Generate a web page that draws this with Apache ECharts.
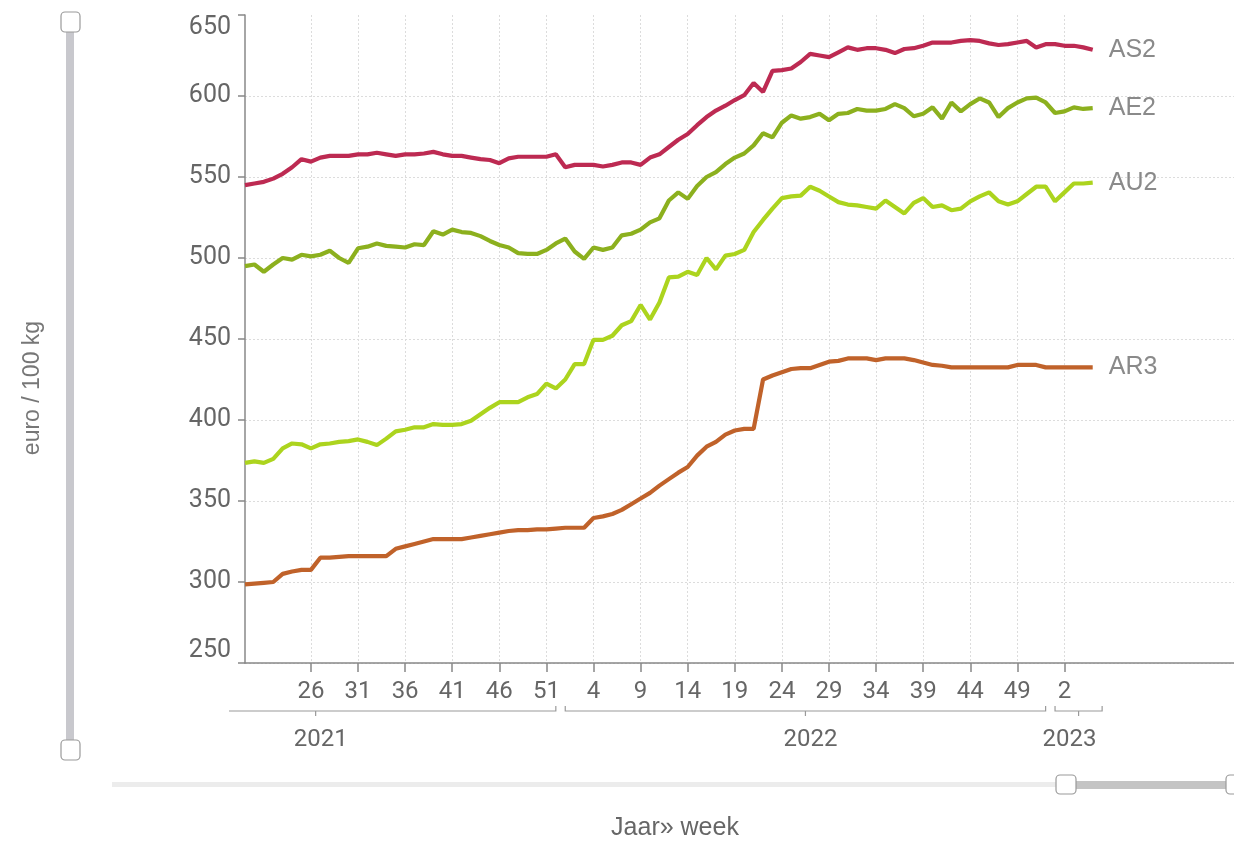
<!DOCTYPE html>
<html>
<head>
<meta charset="utf-8">
<script src="https://cdn.jsdelivr.net/npm/echarts@6/dist/echarts.min.js"></script>
<style>
  html, body { margin: 0; padding: 0; background: #fff; }
  #main { width: 1234px; height: 843px; }
</style>
</head>
<body>
<div id="main"></div>
<script>
// week numbers on the axis (the axis runs on a bit past the data)
const weeks2021 = [19, 20, 21, 22, 23, 24, 25, 26, 27, 28, 29, 30, 31, 32, 33, 34, 35, 36, 37, 38,
  39, 40, 41, 42, 43, 44, 45, 46, 47, 48, 49, 50, 51, 52]
const weeks2022 = [1, 2, 3, 4, 5, 6, 7, 8, 9, 10, 11, 12, 13, 14, 15, 16, 17, 18, 19, 20, 21, 22, 23, 24, 25, 26,
  27, 28, 29, 30, 31, 32, 33, 34, 35, 36, 37, 38, 39, 40, 41, 42, 43, 44, 45, 46, 47, 48, 49, 50, 51, 52]
const weeks2023 = [1, 2, 3, 4, 5, 6, 7, 8, 9, 10, 11, 12, 13, 14, 15, 16, 17, 18, 19, 20]

// year brackets under the week labels: [year, first week, last week]
const yearSpans = [['2021', 1, 52], ['2022', 1, 52], ['2023', 1, 6]]

// euro / 100 kg, from 2021 week 19 to 2023 week 5
const as2 = [545, 546, 547, 549, 552, 556, 561, 559.5, 562, 563,
  563, 563, 564, 564, 565, 564, 563, 564, 564, 564.5,
  565.5, 564, 563, 563, 562, 561, 560.5, 558.5, 561.5, 562.5,
  562.5, 562.5, 562.5, 564, 556, 557.5, 557.5, 557.5, 556.5, 557.5,
  559, 559, 557.5, 562, 564, 568.5, 573, 576.5, 582, 587,
  591, 594, 597.5, 600.5, 608, 602.5, 615.5, 616, 617, 621,
  626, 625, 624, 627, 630, 628.5, 629.5, 629.5, 628.5, 626.5,
  629, 629.5, 631, 633, 633, 633, 634, 634.5, 634, 632.5,
  631.5, 632, 633, 634, 630, 632, 632, 631, 631, 630,
  628.5]
const ae2 = [495, 496, 491.5, 496, 500, 499, 502, 501, 502, 504.5,
  500, 497, 506, 507, 509, 507.5, 507, 506.5, 508.5, 508,
  516.5, 514.5, 517.5, 516, 515.5, 513.5, 510.5, 508, 506.5, 503,
  502.5, 502.5, 505, 509, 512, 504, 499.5, 506.5, 505, 506.5,
  514, 515, 517.5, 522, 524.5, 535.5, 540.5, 536.5, 544.5, 550,
  553, 558, 562, 564.5, 569.5, 577, 574.5, 583.5, 588, 586,
  587, 589, 585, 589, 589.5, 592, 591, 591, 592, 595,
  592.5, 587.5, 589, 593, 586, 596, 590.5, 595, 598.5, 596,
  587, 592.5, 596, 598.5, 599, 596, 589.5, 590.5, 593, 592,
  592.5]
const au2 = [373.5, 374.5, 373.5, 376, 382.5, 385.5, 385, 382.5, 385, 385.5,
  386.5, 387, 388, 386.5, 384.5, 388.5, 393, 394, 395.5, 395.5,
  397.5, 397, 397, 397.5, 399.5, 403.5, 407.5, 411, 411, 411,
  414, 416, 422.5, 419.5, 425, 434.5, 434.5, 449.5, 449.5, 452,
  458.5, 461, 471, 462, 472.5, 488, 488.5, 491.5, 489.5, 500,
  493, 501.5, 502.5, 505, 516, 523.5, 530.5, 537, 538, 538.5,
  544, 541.5, 538, 534.5, 533, 532.5, 531.5, 530.5, 535.5, 531.5,
  527.5, 534, 537, 531.5, 532.5, 529.5, 530.5, 535, 538, 540.5,
  535, 533, 535, 539.5, 544, 544, 535, 540.5, 546, 546,
  546.5]
const ar3 = [298.5, 299, 299.5, 300, 305, 306.5, 307.5, 307.5, 315, 315,
  315.5, 316, 316, 316, 316, 316, 320.5, 322, 323.5, 325,
  326.5, 326.5, 326.5, 326.5, 327.5, 328.5, 329.5, 330.5, 331.5, 332,
  332, 332.5, 332.5, 333, 333.5, 333.5, 333.5, 339.5, 340.5, 342,
  344.5, 348, 351.5, 355, 359.5, 363.5, 367.5, 371, 378, 383.5,
  386.5, 391, 393.5, 394.5, 394.5, 425, 427.5, 429.5, 431.5, 432,
  432, 434, 436, 436.5, 438, 438, 438, 437, 438, 438,
  438, 437, 435.5, 434, 433.5, 432.5, 432.5, 432.5, 432.5, 432.5,
  432.5, 432.5, 434, 434, 434, 432.5, 432.5, 432.5, 432.5, 432.5,
  432.5]

const categories = []
  .concat(weeks2021.map((w) => '2021-' + w))
  .concat(weeks2022.map((w) => '2022-' + w))
  .concat(weeks2023.map((w) => '2023-' + w))

// tick every 5 weeks, starting at 2021 week 26, up to 2023 week 2
const firstTick = categories.indexOf('2021-26')
const lastTick = categories.indexOf('2023-2')
function showTick(i) {
  return i >= firstTick && i <= lastTick && (i - firstTick) % 5 === 0
}

const textColor = '#666'
const gridLine = { color: '#dcdcdc', width: 1, type: [2, 2] }

function lineSeries(name, data, color) {
  return {
    name: name,
    type: 'line',
    data: data,
    showSymbol: false,
    lineStyle: { color: color, width: 4.2 },
    itemStyle: { color: color },
    endLabel: {
      show: true,
      formatter: '{a}',
      color: '#8a8a8a',
      fontSize: 25,
      fontFamily: 'Liberation Sans',
      distance: 16
    }
  }
}

var myChart = echarts.init(document.getElementById('main'))
myChart.setOption({
  animation: false,
  backgroundColor: '#fff',
  grid: { left: 245, top: 15, right: 0, bottom: 180 },
  xAxis: {
    type: 'category',
    boundaryGap: false,
    data: categories,
    axisLine: { lineStyle: { color: '#888', width: 1.5 } },
    axisTick: { show: true, length: 9, interval: (i) => showTick(i), lineStyle: { color: '#888', width: 1.5 } },
    axisLabel: {
      interval: (i) => showTick(i),
      formatter: (v) => v.split('-')[1],
      color: textColor,
      fontSize: 24,
      fontFamily: 'Roboto',
      margin: 17
    },
    splitLine: { show: true, interval: (i) => showTick(i), lineStyle: gridLine }
  },
  yAxis: {
    type: 'value',
    min: 250,
    max: 650,
    interval: 50,
    axisLine: { show: true, lineStyle: { color: '#888', width: 1.5 } },
    axisTick: { show: true, length: 7, lineStyle: { color: '#888', width: 1.5 } },
    axisLabel: {
      color: textColor,
      fontSize: 25,
      fontFamily: 'Roboto',
      margin: 14,
      verticalAlignMinLabel: 'bottom',
      verticalAlignMaxLabel: 'top'
    },
    splitLine: { show: true, showMaxLine: false, lineStyle: gridLine }
  },
  series: [
    lineSeries('AS2', as2, '#bd2a52'),
    lineSeries('AE2', ae2, '#8cb01e'),
    lineSeries('AU2', au2, '#acd41e'),
    lineSeries('AR3', ar3, '#c0622a')
  ]
})

// year brackets, placed with the axis scale
const x0 = myChart.convertToPixel({ xAxisIndex: 0 }, 0)
const step = myChart.convertToPixel({ xAxisIndex: 0 }, 1) - x0
const axisY = myChart.convertToPixel({ yAxisIndex: 0 }, 250)
const leftClip = x0 - 16
function weekX(year, week) {
  const first = categories.indexOf(year + '-1')
  const idx = first >= 0 ? first + week - 1 : categories.indexOf(year + '-' + weeks2021[0]) + week - weeks2021[0]
  return x0 + idx * step
}

const lineColor = '#9a9a9a'
const by = axisY + 48
const graphics = []
yearSpans.forEach(([year, w1, w2]) => {
  const xa = weekX(year, w1)
  const xb = weekX(year, w2)
  const xc = (xa + xb) / 2
  const pts = []
  if (xa < leftClip) {
    pts.push([leftClip, by])
  } else {
    pts.push([xa, by - 5], [xa, by])
  }
  pts.push([xb, by], [xb, by - 5])
  graphics.push({ type: 'polyline', shape: { points: pts }, style: { stroke: lineColor, lineWidth: 1.2, fill: null } })
  graphics.push({ type: 'line', shape: { x1: xc, y1: by, x2: xc, y2: by + 5 }, style: { stroke: lineColor, lineWidth: 1.2 } })
  graphics.push({
    type: 'text', x: xc + (year === '2023' ? -9 : 5), y: by + 29,
    style: { text: year, fill: textColor, font: '24px Roboto', textAlign: 'center', textVerticalAlign: 'middle' }
  })
})

// axis titles
graphics.push({
  type: 'text', x: 33, y: 388, rotation: Math.PI / 2,
  style: { text: 'euro / 100 kg', fill: '#777', font: '23px "Liberation Sans"', textAlign: 'center', textVerticalAlign: 'middle' }
})
graphics.push({
  type: 'text', x: 675, y: 828,
  style: { text: 'Jaar» week', fill: '#666', font: '25px "Liberation Sans"', textAlign: 'center', textVerticalAlign: 'middle' }
})

// range sliders (decoration)
const handle = { fill: '#fff', stroke: '#9a9a9a', lineWidth: 1.2 }
graphics.push({ type: 'rect', shape: { x: 66, y: 22, width: 8, height: 728 }, style: { fill: '#c8c8cd' } })
graphics.push({ type: 'rect', shape: { x: 61, y: 12, width: 19, height: 20, r: 4 }, style: handle })
graphics.push({ type: 'rect', shape: { x: 61, y: 740, width: 19, height: 20, r: 4 }, style: handle })
graphics.push({ type: 'rect', shape: { x: 112, y: 782, width: 1122, height: 5 }, style: { fill: '#ececec' } })
graphics.push({ type: 'rect', shape: { x: 1066, y: 781, width: 168, height: 8 }, style: { fill: '#c4c4c4' } })
graphics.push({ type: 'rect', shape: { x: 1056, y: 775, width: 20, height: 19, r: 4 }, style: handle })
graphics.push({ type: 'rect', shape: { x: 1226, y: 775, width: 20, height: 19, r: 4 }, style: handle })

myChart.setOption({ graphic: graphics })
</script>
</body>
</html>
